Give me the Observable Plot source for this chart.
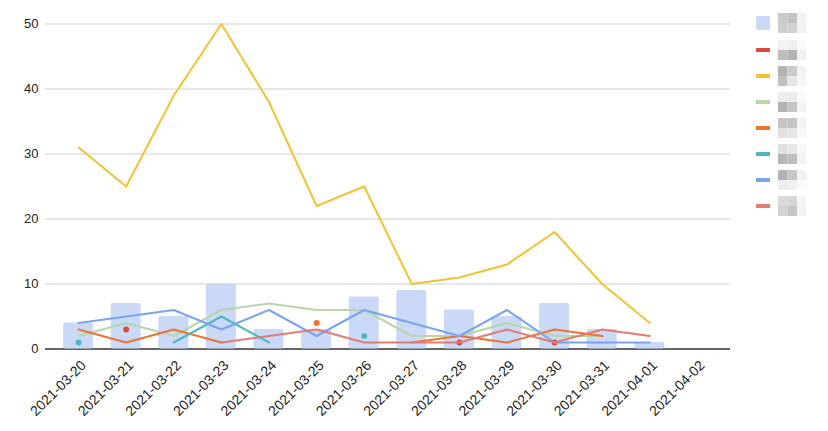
<!DOCTYPE html>
<html>
<head>
<meta charset="utf-8">
<script src="https://cdn.jsdelivr.net/npm/d3@7"></script>
<script src="https://cdn.jsdelivr.net/npm/@observablehq/plot@0.6"></script>
<style>
  html, body { margin: 0; padding: 0; background: #fff; }
  #chart svg { display: block; }
</style>
</head>
<body>
<div id="chart"></div>
<script>
const dates = ["2021-03-20","2021-03-21","2021-03-22","2021-03-23","2021-03-24","2021-03-25","2021-03-26","2021-03-27","2021-03-28","2021-03-29","2021-03-30","2021-03-31","2021-04-01","2021-04-02"];
const yTicks = [0, 10, 20, 30, 40, 50];

const barValues    = [4, 7, 5, 10, 3, 3, 8, 9, 6, 5, 7, 3, 1, null];
const redValues    = [null, 3, null, null, null, null, null, null, 1, null, 1, null, null, null];
const yellowValues = [31, 25, 39, 50, 38, 22, 25, 10, 11, 13, 18, 10, 4, null];
const greenValues  = [2, 4, 2, 6, 7, 6, 6, 2, 2, 4, 2, 2, null, null];
const orangeValues = [3, 1, 3, 1, null, 4, null, 1, 2, 1, 3, 2, null, null];
const tealValues   = [1, null, 1, 5, 1, null, 2, null, null, null, null, null, null, null];
const blueValues   = [4, 5, 6, 3, 6, 2, 6, 4, 2, 6, 1, 1, 1, null];
const salmonValues = [null, null, null, 1, 2, 3, 1, 1, 1, 3, 1, 3, 2, null];

const barColor = "#c9d9f7";
const lineSeries = [
  {values: redValues,    color: "#dc4a3d"},
  {values: yellowValues, color: "#f1c232"},
  {values: greenValues,  color: "#b6d7a8"},
  {values: orangeValues, color: "#ee7330"},
  {values: tealValues,   color: "#4fb6bd"},
  {values: blueValues,   color: "#7ba3ee"},
  {values: salmonValues, color: "#e27c73"}
];

const barData = dates.map((d, i) => ({date: d, value: barValues[i]})).filter(d => d.value != null);

const lineMarks = [];
for (const s of lineSeries) {
  const rows = dates.map((d, i) => ({date: d, value: s.values[i]}));
  lineMarks.push(Plot.lineY(rows, {x: "date", y: "value", stroke: s.color, strokeWidth: 2, curve: "linear"}));
  const isolated = rows.filter((r, i) => r.value != null &&
    (i === 0 || s.values[i - 1] == null) && (i === rows.length - 1 || s.values[i + 1] == null));
  lineMarks.push(Plot.dot(isolated, {x: "date", y: "value", fill: s.color, r: 3, stroke: "none"}));
}

const chart = Plot.plot({
  width: 828,
  height: 431,
  marginLeft: 45,
  marginRight: 98,
  marginTop: 23.5,
  marginBottom: 82.5,
  style: {fontFamily: "'Liberation Sans', Arial, sans-serif", fontSize: "13px", color: "#222", background: "#fff"},
  x: {type: "band", domain: dates, paddingInner: 0.37, paddingOuter: 0.38, round: false, label: null},
  y: {domain: [0, 50], label: null},
  marks: [
    Plot.ruleY(yTicks.filter(t => t > 0), {stroke: "#d0d0d0", strokeWidth: 1}),
    Plot.ruleY([0], {stroke: "#333", strokeWidth: 1.5}),
    Plot.barY(barData, {x: "date", y: "value", fill: barColor, rx: 2}),
    ...lineMarks,
    Plot.axisY({ticks: yTicks, tickSize: 0, tickPadding: 7, fontSize: 13, fill: "#222", label: null}),
    Plot.axisX({tickSize: 0, tickRotate: -45, tickPadding: 14, dx: 5, fontSize: 14, fill: "#222", label: null})
  ]
});

document.getElementById("chart").appendChild(chart);

// legend (labels in the reference are pixelated / unreadable; shown as grey blocks)
const svg = d3.select(chart);
const lg = svg.append("g");
const legendY = [23, 50, 76, 102, 128, 154, 180, 206];
lg.append("rect").attr("x", 756).attr("y", 16).attr("width", 14).attr("height", 14).attr("rx", 2).attr("fill", barColor);
lineSeries.forEach((s, i) => {
  lg.append("rect").attr("x", 756).attr("y", legendY[i + 1] - 2).attr("width", 14).attr("height", 4).attr("fill", s.color);
});
const blockShades = [
  [["#c9c9c9","#c2c2c2","#f1f1f1"],["#cdcdcd","#d2d2d2","#f3f3f3"]],
  [["#f3f3f3","#efefef","#fafafa"],["#bdbdbd","#b3b3b3","#f1f1f1"]],
  [["#b4b4b4","#cbcbcb","#f3f3f3"],["#c0c0c0","#e6e6e6","#f6f6f6"]],
  [["#ececec","#ececec","#fafafa"],["#b3b3b3","#c4c4c4","#f3f3f3"]],
  [["#c4c4c4","#c4c4c4","#f3f3f3"],["#e2e2e2","#e6e6e6","#f8f8f8"]],
  [["#dedede","#e6e6e6","#f8f8f8"],["#b7b7b7","#bebebe","#f3f3f3"]],
  [["#b2b2b2","#c6c6c6","#f3f3f3"],["#ececec","#f1f1f1","#fafafa"]],
  [["#dadada","#d6d6d6","#f6f6f6"],["#d2d2d2","#c6c6c6","#f3f3f3"]]
];
blockShades.forEach((rowsArr, i) => {
  rowsArr.forEach((row, r) => {
    row.forEach((c, k) => {
      lg.append("rect").attr("x", 778 + k * 9.5).attr("y", legendY[i] - 10 + r * 10)
        .attr("width", 9.5).attr("height", 10).attr("fill", c);
    });
  });
});
</script>
</body>
</html>
